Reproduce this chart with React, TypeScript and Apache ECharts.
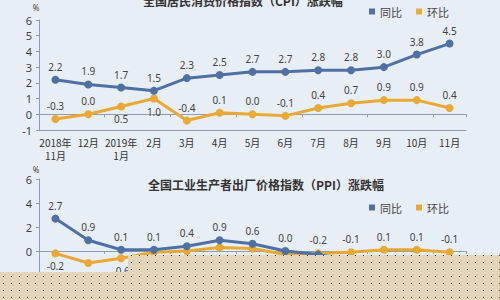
import React, { useEffect, useRef } from "react";
import * as echarts from "echarts";

const months = ["2018年\n11月", "12月", "2019年\n1月", "2月", "3月", "4月", "5月", "6月", "7月", "8月", "9月", "10月", "11月"];
const cpiYoY = [2.2, 1.9, 1.7, 1.5, 2.3, 2.5, 2.7, 2.7, 2.8, 2.8, 3.0, 3.8, 4.5];
const cpiMoM = [-0.3, 0.0, 0.5, 1.0, -0.4, 0.1, 0.0, -0.1, 0.4, 0.7, 0.9, 0.9, 0.4];
const ppiYoY = [2.7, 0.9, 0.1, 0.1, 0.4, 0.9, 0.6, 0.0, -0.3, -0.8, -1.2, -1.6, -1.4];
const ppiMoM = [-0.2, -1.0, -0.6, -0.1, 0.0, 0.3, 0.2, -0.3, -0.2, -0.1, 0.1, 0.1, -0.1];

// label placements (style, not data)
const cpiYoYPos = Array(13).fill("top");
const cpiMoMPos = ["top", "top", "bottom", "bottom", "top", "top", "top", "top", "top", "top", "top", "top", "top"];
const ppiYoYPos = ["top", "top", "top", "top", "top", "top", "top", "top", "bottom", "bottom", "bottom", "bottom", "bottom"];
const ppiMoMPos = ["bottom", "bottom", "bottom", "bottom", "bottom", "bottom", "bottom", "bottom", "top", "top", "top", "top", "top"];

const BLUE = "#4f70a3";
const ORANGE = "#e9a934";
const AXIS = "#8e9db2";
const CJK = '"Noto Sans CJK SC", "Noto Sans", sans-serif';

function makePattern() {
  const c = document.createElement("canvas");
  c.width = 8;
  c.height = 7;
  const ctx = c.getContext("2d")!;
  ctx.fillStyle = "#e3d5b5";
  ctx.fillRect(0, 0, 8, 7);
  ctx.fillStyle = "#3b3424";
  ctx.fillRect(3, 3, 1, 1);
  ctx.fillStyle = "#f8f2e2";
  ctx.fillRect(4, 3, 1, 1);
  return c;
}

function mkSeries(name: string, data: number[], pos: string[], color: string, xi: number, yi: number) {
  return {
    name,
    type: "line",
    xAxisIndex: xi,
    yAxisIndex: yi,
    data: data.map((v, i) => ({ value: v, label: { position: pos[i] } })),
    symbol: "circle",
    symbolSize: 8,
    lineStyle: { width: 3, color },
    itemStyle: { color },
    label: {
      show: true,
      distance: 4,
      fontSize: 10,
      color: "#444",
      fontFamily: "Noto Sans, sans-serif",
      formatter: (p: any) => Number(p.value).toFixed(1),
    },
    z: name === "同比" ? 3 : 2,
  };
}

export default function App() {
  const ref = useRef<HTMLDivElement>(null);
  useEffect(() => {
    const chart = echarts.init(ref.current!, null, { renderer: "svg" });
    const pattern = makePattern();
    const catAxisBase = {
      type: "category",
      data: months,
      boundaryGap: true,
    };
    chart.setOption({
      animation: false,
      backgroundColor: "#e8eef5",
      title: [
        {
          text: "全国居民消费价格指数（CPI）涨跌幅",
          left: 143,
          top: -6,
          padding: 0,
          textStyle: { fontSize: 12, fontWeight: "bold", color: "#333", fontFamily: CJK },
        },
        {
          text: "全国工业生产者出厂价格指数（PPI）涨跌幅",
          left: 148,
          top: 178,
          padding: 0,
          textStyle: { fontSize: 12, fontWeight: "bold", color: "#333", fontFamily: CJK },
        },
      ],
      legend: [
        {
          data: ["同比", "环比"],
          right: 46,
          top: 1,
          icon: "rect",
          itemWidth: 6,
          itemHeight: 6,
          itemGap: 14,
          textStyle: { fontSize: 11, color: "#444", fontFamily: CJK },
        },
        {
          data: ["同比", "环比"],
          right: 46,
          top: 197,
          icon: "rect",
          itemWidth: 6,
          itemHeight: 6,
          itemGap: 14,
          textStyle: { fontSize: 11, color: "#444", fontFamily: CJK },
        },
      ],
      grid: [
        { left: 39, right: 34, top: 20, height: 110, outerBoundsMode: "none", containLabel: false },
        { left: 39, right: 34, top: 179, height: 120, outerBoundsMode: "none", containLabel: false },
      ],
      xAxis: [
        {
          ...catAxisBase,
          gridIndex: 0,
          position: "bottom",
          axisLine: { onZero: false, lineStyle: { color: AXIS, width: 1 } },
          axisTick: { show: false },
          axisLabel: { interval: 0, fontSize: 10, lineHeight: 13, margin: 6, color: "#333", fontFamily: CJK },
        },
        {
          ...catAxisBase,
          gridIndex: 0,
          position: "top",
          axisLine: { onZero: true, lineStyle: { color: AXIS, width: 1 } },
          axisTick: { show: true, length: 3, inside: true, lineStyle: { color: AXIS } },
          axisLabel: { show: false },
        },
        {
          ...catAxisBase,
          gridIndex: 1,
          position: "bottom",
          axisLine: { onZero: false, lineStyle: { color: AXIS, width: 1 } },
          axisTick: { show: false },
          axisLabel: { show: false },
        },
        {
          ...catAxisBase,
          gridIndex: 1,
          position: "top",
          axisLine: { onZero: true, lineStyle: { color: AXIS, width: 1 } },
          axisTick: { show: true, length: 3, inside: true, lineStyle: { color: AXIS } },
          axisLabel: { show: false },
        },
      ],
      yAxis: [
        {
          type: "value",
          gridIndex: 0,
          min: -1,
          max: 6,
          interval: 1,
          axisLine: { show: true, lineStyle: { color: AXIS } },
          axisTick: { show: true, length: 3, lineStyle: { color: AXIS } },
          splitLine: { show: false },
          axisLabel: { fontSize: 11, color: "#444", margin: 7, fontFamily: "Noto Sans, sans-serif" },
        },
        {
          type: "value",
          gridIndex: 1,
          min: -4,
          max: 6,
          interval: 2,
          axisLine: { show: true, lineStyle: { color: AXIS } },
          axisTick: { show: true, length: 3, lineStyle: { color: AXIS } },
          splitLine: { show: false },
          axisLabel: { fontSize: 11, color: "#444", margin: 7, showMinLabel: false, fontFamily: "Noto Sans, sans-serif" },
        },
      ],
      series: [
        mkSeries("同比", cpiYoY, cpiYoYPos, BLUE, 0, 0),
        mkSeries("环比", cpiMoM, cpiMoMPos, ORANGE, 0, 0),
        mkSeries("同比", ppiYoY, ppiYoYPos, BLUE, 2, 1),
        mkSeries("环比", ppiMoM, ppiMoMPos, ORANGE, 2, 1),
      ],
      graphic: [
        {
          type: "text",
          x: 36,
          y: 7,
          style: { text: "%", fontSize: 8, fill: "#444", align: "center", verticalAlign: "middle", fontFamily: "Noto Sans, sans-serif" },
        },
        {
          type: "text",
          x: 36,
          y: 169,
          style: { text: "%", fontSize: 8, fill: "#444", align: "center", verticalAlign: "middle", fontFamily: "Noto Sans, sans-serif" },
        },
        {
          type: "rect",
          shape: { x: 0, y: 272, width: 500, height: 28 },
          style: { fill: { image: pattern, repeat: "repeat" } as any },
          z: 100,
        },
        {
          type: "rect",
          shape: { x: 128, y: 255, width: 372, height: 45 },
          style: { fill: { image: pattern, repeat: "repeat" } as any },
          z: 100,
        },
      ],
    });
    return () => chart.dispose();
  }, []);
  return <div ref={ref} style={{ width: 500, height: 300, position: "fixed", left: 0, top: 0 }} />;
}
